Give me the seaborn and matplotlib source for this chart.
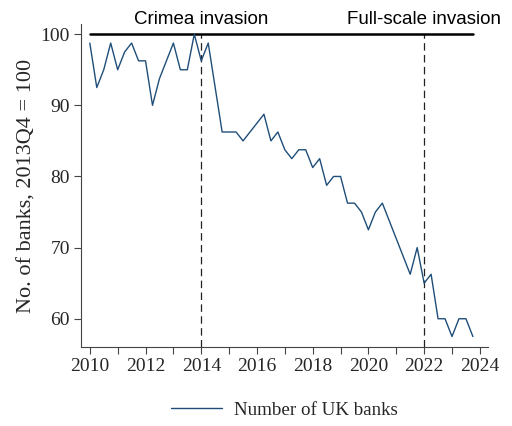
import matplotlib
matplotlib.use("Agg")
import matplotlib.pyplot as plt
import matplotlib.transforms as mtransforms
import numpy as np
import pandas as pd
import seaborn as sns

# Quarterly count of UK banks, indexed to 2013Q4 = 100
first_quarter = "2010Q1"
last_quarter = "2023Q4"
bank_index = [
    98.75, 92.5, 95.0, 98.75, 95.0, 97.5, 98.75, 96.25,
    96.25, 90.0, 93.75, 96.25, 98.75, 95.0, 95.0, 100.0,
    96.25, 98.75, 92.5, 86.25, 86.25, 86.25, 85.0, 86.25,
    87.5, 88.75, 85.0, 86.25, 83.75, 82.5, 83.75, 83.75,
    81.25, 82.5, 78.75, 80.0, 80.0, 76.25, 76.25, 75.0,
    72.5, 75.0, 76.25, 73.75, 71.25, 68.75, 66.25, 70.0,
    65.0, 66.25, 60.0, 60.0, 57.5, 60.0, 60.0, 57.5,
]
events = ["Crimea invasion", "Full-scale invasion"]
event_dates = [2014.0, 2022.0]
x_ticks = list(range(2010, 2025, 2))
y_ticks = [60, 70, 80, 90, 100]
series_name = "Number of UK banks"

periods = pd.period_range(first_quarter, last_quarter, freq="Q")
df = pd.DataFrame({
    "time": periods.year + (periods.quarter - 1) / 4,
    "value": bank_index,
    "series": series_name,
})

sns.set_style("ticks")
serif = ["Liberation Serif", "DejaVu Serif"]
sans = ["Liberation Sans", "DejaVu Sans"]
plt.rcParams["font.family"] = serif

fig = plt.figure(figsize=(5.12, 4.26), dpi=100)
ax = fig.add_axes([0.158, 0.185, 0.795, 0.759])

# Reference level at 100
ax.plot([df["time"].iloc[0], df["time"].iloc[-1]], [100, 100],
        color="black", lw=1.8, zorder=2)

sns.lineplot(data=df, x="time", y="value", hue="series",
             palette=["#1f4e79"], lw=1.0, ax=ax, zorder=3)

trans = mtransforms.blended_transform_factory(ax.transData, ax.transAxes)
for name, date in zip(events, event_dates):
    ax.plot([date, date], [56.0, 100], color="#222222", lw=0.9,
            ls=(0, (6, 3.5)), zorder=1)
    ax.text(date, 1.0, name, transform=trans, ha="center", va="baseline",
            fontsize=13.5, family=sans, color="black")

ax.set_xlim(2009.68, 2024.29)
ax.set_ylim(56.0, 101.45)
ax.set_xticks(x_ticks)
ax.set_xticks(range(2010, 2025), minor=True)
ax.set_yticks(y_ticks)
ax.tick_params(axis="both", which="major", labelsize=14, length=5,
               width=0.8, color="#444444", pad=3)
ax.tick_params(axis="x", which="minor", length=5, width=0.8, color="#444444")
ax.set_xlabel("")
ax.set_ylabel("No. of banks, 2013Q4 = 100", fontsize=16, labelpad=3)
sns.despine(ax=ax)
for s in ("left", "bottom"):
    ax.spines[s].set_color("#444444")
    ax.spines[s].set_linewidth(0.8)

ax.legend_.remove()
handles, labels = ax.get_legend_handles_labels()
fig.legend(handles, labels, loc="center", bbox_to_anchor=(0.555, 0.037),
           frameon=False, fontsize=13.7, handlelength=2.7, handletextpad=0.6)

fig.savefig("out.png", dpi=100)
